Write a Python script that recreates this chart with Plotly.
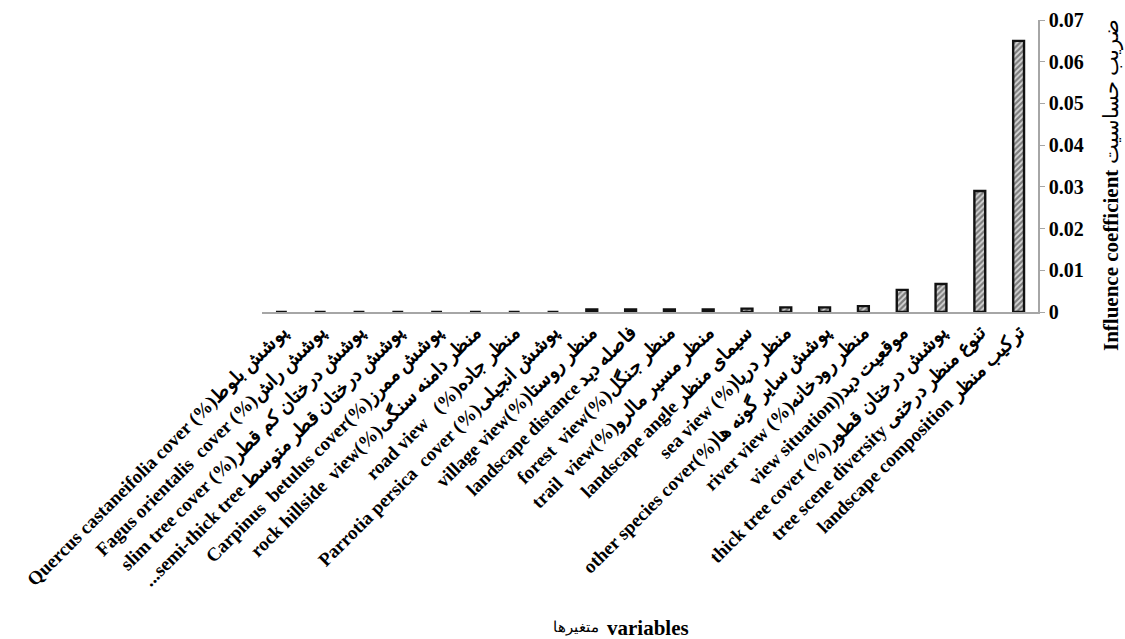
import plotly.graph_objects as go

# Variables (English + Persian) and their influence coefficients
categories = [
    "Quercus castaneifolia cover (%)پوشش بلوط",
    "Fagus orientalis  cover (%)پوشش راش",
    "slim tree cover (%)پوشش درختان کم قطر",
    "...semi-thick tree پوشش درختان قطر متوسط",
    "Carpinus  betulus cover(%)پوشش ممرز",
    "rock hillside  view(%)منظر دامنه سنگی",
    "road view   (%)منظر جاده",
    "Parrotia persica  cover (%)پوشش انجیلی",
    "village view(%)منظر روستا",
    "landscape distance فاصله دید",
    "forest  view(%)منظر جنگل",
    "trail  view(%)منظر مسیر مالرو",
    "landscape angle سیمای منظر",
    "sea view (%)منظر دریا",
    "other species cover(%)پوشش سایر گونه ها",
    "river view (%)منظر رودخانه",
    "view situation))موقعیت دید",
    "thick tree cover (%)پوشش درختان قطور",
    "tree scene diversity تنوع منظر درختی",
    "landscape composition ترکیب منظر",
]
influence = [
    0.0, 0.0, 0.0, 0.0, 0.0, 0.0, 0.0, 0.0,
    0.0006, 0.0006, 0.0006, 0.0006, 0.0008, 0.0011, 0.0011, 0.0014,
    0.0053, 0.0067, 0.029, 0.065,
]
y_ticks = [0, 0.01, 0.02, 0.03, 0.04, 0.05, 0.06, 0.07]
y_tick_text = ["0", "0.01", "0.02", "0.03", "0.04", "0.05", "0.06", "0.07"]

FONT = "Liberation Serif, Times New Roman, DejaVu Serif, serif"
AXIS_GREY = "#a6a6a6"

fig = go.Figure(
    go.Bar(
        x=categories,
        y=influence,
        width=0.28,
        marker=dict(
            color="white",
            line=dict(color="#111111", width=2.4),
            pattern=dict(shape="/", fgcolor="#222222", bgcolor="#d8d8d8",
                         size=4, solidity=0.55),
        ),
    )
)

fig.update_layout(
    width=1125,
    height=639,
    margin=dict(l=262, r=87, t=20, b=327),
    paper_bgcolor="white",
    plot_bgcolor="white",
    showlegend=False,
    font=dict(family=FONT, color="black"),
)

fig.update_xaxes(
    type="category",
    range=[-0.5, len(categories) - 0.5],
    tickangle=-45,
    tickfont=dict(family=FONT, size=19, color="black", weight="bold"),
    showline=True,
    linecolor=AXIS_GREY,
    linewidth=1.5,
    ticks="",
    showgrid=False,
    automargin=False,
)

fig.update_yaxes(
    side="right",
    range=[0, 0.07],
    tickvals=y_ticks,
    ticktext=y_tick_text,
    tickfont=dict(family=FONT, size=20, color="black", weight="bold"),
    ticks="outside",
    ticklen=5,
    tickcolor=AXIS_GREY,
    showline=True,
    linecolor=AXIS_GREY,
    linewidth=1.5,
    showgrid=False,
    zeroline=False,
    automargin=False,
)

# Value-axis caption, rotated, to the right of the tick labels
fig.add_annotation(
    text="Influence coefficient <span style='font-weight:normal'>ضریب حساسیت</span>",
    xref="paper", yref="paper",
    x=1.0954, y=0.435,
    xanchor="center", yanchor="middle",
    textangle=-90,
    showarrow=False,
    font=dict(family=FONT, size=21, color="black", weight="bold"),
)

# Category-axis caption: Persian word on the left, English on the right
fig.add_annotation(
    text="متغیرها",
    xref="paper", yref="paper",
    x=0.4365, y=-1.082,
    xanchor="right", yanchor="middle",
    showarrow=False,
    font=dict(family=FONT, size=15, color="black"),
)
fig.add_annotation(
    text="variables",
    xref="paper", yref="paper",
    x=0.4425, y=-1.082,
    xanchor="left", yanchor="middle",
    showarrow=False,
    font=dict(family=FONT, size=21, color="black", weight="bold"),
)

fig.write_html("out.html")
